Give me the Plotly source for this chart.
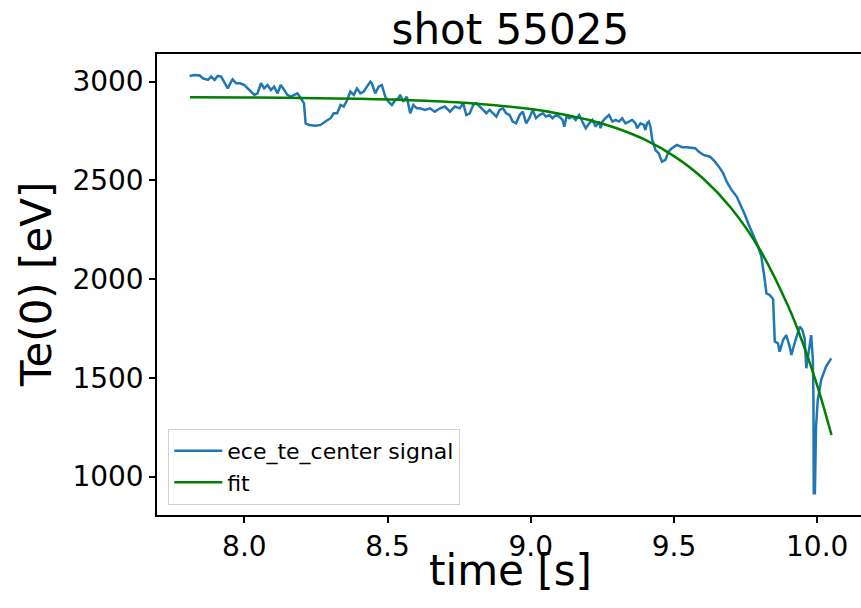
#recreating the Te(0) fit plot for shot 55025
import plotly.graph_objects as go

#%% signal
time_s = [7.809, 7.826, 7.844, 7.855, 7.873, 7.884, 7.896, 7.907, 7.919, 7.930,
          7.942, 7.954, 7.959, 7.971, 7.985, 8.000, 8.011, 8.023, 8.035, 8.046,
          8.058, 8.069, 8.081, 8.093, 8.104, 8.116, 8.127, 8.139, 8.150, 8.162,
          8.174, 8.185, 8.197, 8.208, 8.214, 8.226, 8.249, 8.266, 8.283, 8.301,
          8.312, 8.324, 8.336, 8.347, 8.359, 8.370, 8.382, 8.393, 8.405, 8.417,
          8.428, 8.440, 8.445, 8.457, 8.469, 8.480, 8.492, 8.503, 8.515, 8.527,
          8.538, 8.544, 8.555, 8.567, 8.579, 8.590, 8.602, 8.613, 8.631, 8.648,
          8.665, 8.683, 8.700, 8.718, 8.735, 8.752, 8.764, 8.775, 8.787, 8.799,
          8.810, 8.827, 8.845, 8.856, 8.868, 8.880, 8.891, 8.903, 8.914, 8.926,
          8.937, 8.949, 8.961, 8.972, 8.984, 8.995, 9.007, 9.018, 9.030, 9.042,
          9.053, 9.065, 9.076, 9.088, 9.099, 9.111, 9.117, 9.126, 9.134, 9.146,
          9.157, 9.169, 9.180, 9.192, 9.204, 9.215, 9.227, 9.238, 9.244, 9.250,
          9.261, 9.273, 9.285, 9.296, 9.308, 9.319, 9.331, 9.342, 9.354, 9.366,
          9.371, 9.383, 9.395, 9.400, 9.406, 9.412, 9.418, 9.424, 9.429, 9.435,
          9.447, 9.458, 9.470, 9.481, 9.493, 9.510, 9.528, 9.545, 9.562, 9.574,
          9.586, 9.603, 9.626, 9.643, 9.661, 9.672, 9.684, 9.701, 9.719, 9.736,
          9.748, 9.759, 9.771, 9.782, 9.794, 9.805, 9.811, 9.817, 9.823, 9.834,
          9.846, 9.848, 9.852, 9.863, 9.869, 9.881, 9.892, 9.904, 9.910, 9.921,
          9.933, 9.939, 9.948, 9.956, 9.962, 9.968, 9.973, 9.979, 9.985, 9.987,
          9.988, 9.992, 9.996, 10.002, 10.014, 10.031, 10.049]
te_ev = [3029, 3034, 3031, 3017, 3009, 3026, 3009, 3029, 3026, 3000,
         2966, 3000, 3012, 2992, 2992, 2983, 2966, 2950, 2933, 2941,
         2992, 2966, 2983, 2958, 2975, 2941, 2983, 2958, 2933, 2924,
         2933, 2941, 2916, 2891, 2789, 2781, 2777, 2781, 2798, 2815,
         2840, 2840, 2882, 2874, 2907, 2950, 2933, 2966, 2941, 2950,
         2975, 3000, 2992, 2941, 2975, 2983, 2924, 2899, 2882, 2907,
         2916, 2933, 2899, 2924, 2840, 2882, 2865, 2865, 2857, 2865,
         2848, 2865, 2874, 2848, 2874, 2865, 2891, 2831, 2840, 2882,
         2891, 2865, 2840, 2857, 2840, 2823, 2857, 2865, 2840, 2831,
         2798, 2789, 2831, 2848, 2789, 2815, 2857, 2815, 2831, 2840,
         2823, 2831, 2815, 2831, 2823, 2806, 2772, 2831, 2815, 2823,
         2806, 2831, 2798, 2764, 2789, 2806, 2772, 2798, 2764, 2798,
         2815, 2831, 2798, 2806, 2798, 2815, 2789, 2798, 2806, 2789,
         2764, 2789, 2781, 2755, 2789, 2798, 2772, 2705, 2688, 2654,
         2637, 2595, 2604, 2646, 2663, 2680, 2668, 2668, 2663, 2663,
         2646, 2629, 2620, 2595, 2561, 2536, 2494, 2452, 2418, 2367,
         2325, 2283, 2241, 2198, 2165, 2114, 2063, 1996, 1928, 1920,
         1900, 1793, 1684, 1675, 1633, 1692, 1717, 1658, 1616, 1675,
         1734, 1760, 1743, 1701, 1549, 1608, 1675, 1717, 1591, 1388,
         916, 916, 1253, 1388, 1490, 1557, 1599]

#%% fit curve
fit_t = [7.81, 8.0, 8.2, 8.4, 8.6, 8.8, 9.0, 9.1, 9.2, 9.3, 9.4, 9.5,
         9.6, 9.7, 9.8, 9.9, 9.95, 10.0, 10.05]
fit_te = [2921, 2920, 2917, 2913, 2905, 2890, 2861, 2838, 2807, 2764, 2705, 2623,
          2512, 2359, 2149, 1859, 1676, 1462, 1211]

x_ticks = [8.0, 8.5, 9.0, 9.5, 10.0]
y_ticks = [1000, 1500, 2000, 2500, 3000]

#%%
FONT = "DejaVu Sans"

fig = go.Figure()
fig.add_trace(go.Scatter(x=time_s, y=te_ev, mode="lines", name="ece_te_center signal",
                         line=dict(color="#1f77b4", width=2.5)))
fig.add_trace(go.Scatter(x=fit_t, y=fit_te, mode="lines", name="fit",
                         line=dict(color="#008000", width=2.5, shape="spline")))

fig.update_layout(
    width=861, height=608,
    margin=dict(l=157, r=0, t=54, b=93, autoexpand=False),
    paper_bgcolor="white", plot_bgcolor="white",
    font=dict(family=FONT, color="black"),
    title=dict(text="shot 55025", font=dict(size=42, family=FONT, color="black"),
               x=0.502, xref="paper", xanchor="center",
               y=1 - 29 / 608, yref="container", yanchor="middle"),
    legend=dict(x=0.016, y=0.022, xanchor="left", yanchor="bottom", itemwidth=48,
                bgcolor="rgba(255,255,255,0.8)", bordercolor="#d0d0d0", borderwidth=1,
                font=dict(size=22, family=FONT, color="black")),
    showlegend=True,
)
# axis titles as annotations so they sit where the original has them
fig.add_annotation(text="time [s]", xref="paper", yref="paper", x=0.502, y=-0.121,
                   xanchor="center", yanchor="middle", showarrow=False,
                   font=dict(size=42, family=FONT, color="black"))
fig.add_annotation(text="Te(0) [eV]", xref="paper", yref="paper", x=-0.171, y=0.5,
                   xanchor="center", yanchor="middle", showarrow=False, textangle=-90,
                   font=dict(size=42, family=FONT, color="black"))

fig.update_xaxes(range=[7.695, 10.153], tickvals=x_ticks, ticktext=[f"{v:.1f}" for v in x_ticks],
                 ticks="outside", ticklen=6, tickwidth=1.5, tickcolor="black",
                 showline=True, linecolor="black", linewidth=1.5, mirror=True,
                 showgrid=False, zeroline=False, automargin=False,
                 tickfont=dict(size=28, family=FONT))
fig.update_yaxes(range=[806, 3140], tickvals=y_ticks,
                 ticks="outside", ticklen=6, tickwidth=1.5, tickcolor="black",
                 showline=True, linecolor="black", linewidth=1.5,
                 showgrid=False, zeroline=False, automargin=False,
                 tickfont=dict(size=28, family=FONT))

# drop the page's default 8px body margin so the figure sits at the window corner
fig.write_html("out.html", config={"displayModeBar": False},
               post_script="document.body.style.margin='0';")
